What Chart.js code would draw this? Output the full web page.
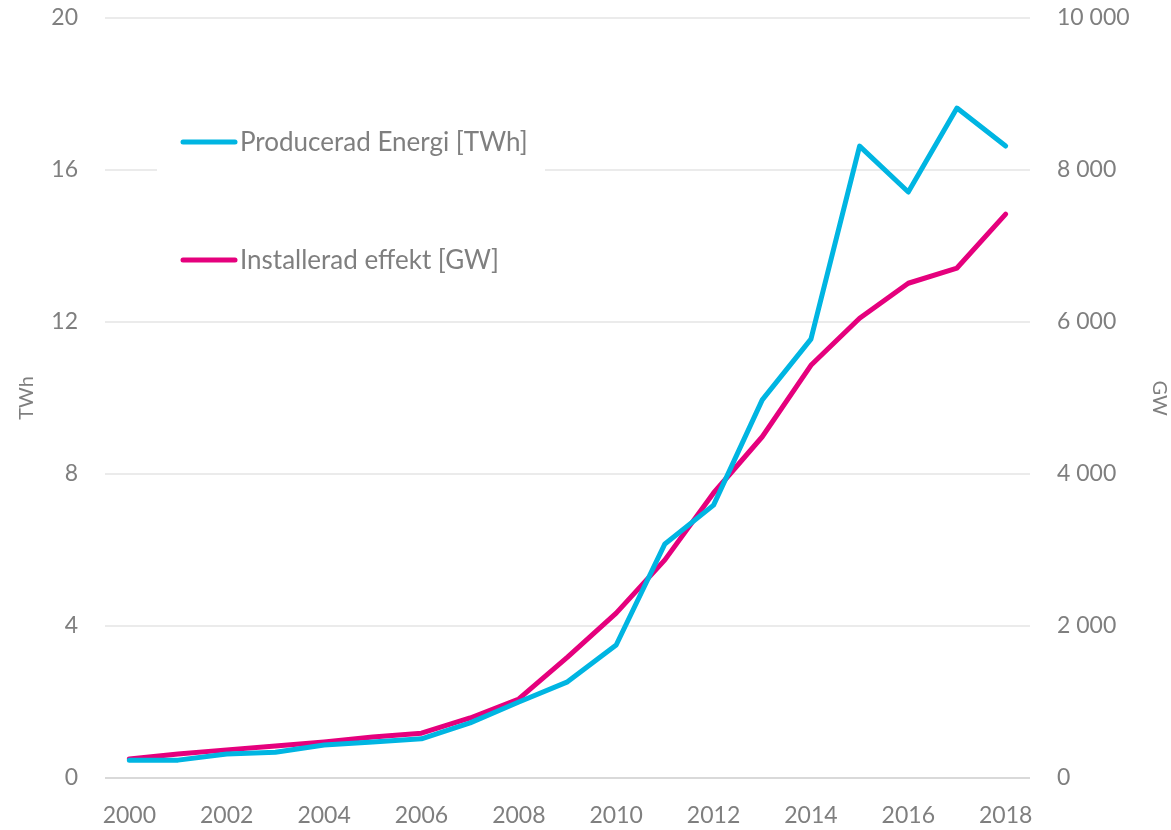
<!DOCTYPE html>
<html>
<head>
<meta charset="utf-8">
<script src="https://cdn.jsdelivr.net/npm/chart.js@4/dist/chart.umd.min.js"></script>
<style>
  html, body { margin: 0; padding: 0; background: #fff; }
  canvas { display: block; }
</style>
</head>
<body>
<canvas id="chart" width="1171" height="830"></canvas>
<script>
// Data
const years = ['2000', '2001', '2002', '2003', '2004', '2005', '2006', '2007', '2008', '2009',
  '2010', '2011', '2012', '2013', '2014', '2015', '2016', '2017', '2018'];
const energyTWh = [0.47, 0.47, 0.63, 0.68, 0.87, 0.95, 1.03, 1.45, 2.0, 2.53,
  3.5, 6.16, 7.18, 9.95, 11.55, 16.63, 15.42, 17.63, 16.63];
const capacityGW = [250, 315, 370, 420, 475, 540, 590, 790, 1040, 1590,
  2170, 2870, 3750, 4490, 5430, 6050, 6510, 6710, 7420];
const twhTicks = [0, 4, 8, 12, 16, 20];
const gwTicks = [0, 2000, 4000, 6000, 8000, 10000];

const blue = '#00B5E2';
const pink = '#E5007D';
const grey = '#7F7F7F';
const font = 'Lato, "Open Sans", sans-serif';

// white box + legend drawn inside the plot, like the original
const innerLegend = {
  id: 'innerLegend',
  beforeDatasetsDraw(chart) {
    const ctx = chart.ctx;
    ctx.save();
    ctx.fillStyle = '#fff';
    ctx.fillRect(157, 110, 388, 180);
    ctx.restore();
  },
  afterDatasetsDraw(chart) {
    const ctx = chart.ctx;
    ctx.save();
    ctx.font = '26px ' + font;
    ctx.textBaseline = 'middle';
    chart.data.datasets.forEach((ds, i) => {
      const y = 142 + i * 118;
      ctx.strokeStyle = ds.borderColor;
      ctx.lineWidth = 5;
      ctx.lineCap = 'round';
      ctx.beginPath();
      ctx.moveTo(183, y);
      ctx.lineTo(235, y);
      ctx.stroke();
      ctx.fillStyle = grey;
      ctx.fillText(ds.label, 240, y + 1);
    });
    ctx.restore();
  }
};

// fix the box sizes so the plot area lands where it does in the original
const fitY = w => s => { s.width = w; s.paddingTop = 0; s.paddingBottom = 0; };

new Chart(document.getElementById('chart').getContext('2d'), {
  type: 'line',
  data: {
    labels: years,
    datasets: [
      {
        label: 'Producerad Energi [TWh]',
        data: energyTWh,
        yAxisID: 'y',
        borderColor: blue,
        backgroundColor: blue,
        borderWidth: 5,
        pointRadius: 0,
        tension: 0,
        borderCapStyle: 'round',
        borderJoinStyle: 'round'
      },
      {
        label: 'Installerad effekt [GW]',
        data: capacityGW,
        yAxisID: 'y1',
        borderColor: pink,
        backgroundColor: pink,
        borderWidth: 5,
        pointRadius: 0,
        tension: 0,
        borderCapStyle: 'round',
        borderJoinStyle: 'round'
      }
    ]
  },
  options: {
    responsive: false,
    animation: false,
    layout: { padding: { top: 18 } },
    plugins: {
      legend: { display: false },
      tooltip: { enabled: false }
    },
    scales: {
      x: {
        offset: true,
        grid: { display: false },
        border: { display: false },
        ticks: {
          autoSkip: false,
          maxRotation: 0,
          padding: 16,
          color: grey,
          font: { family: font, size: 23 },
          callback: (v, i) => (i % 2 === 0 ? years[i] : '')
        },
        afterFit: s => { s.height = 52; s.paddingLeft = 0; s.paddingRight = 0; }
      },
      y: {
        position: 'left',
        min: 0,
        max: 20,
        afterBuildTicks: s => { s.ticks = twhTicks.map(v => ({ value: v })); },
        grid: {
          drawTicks: false,
          color: ctx => (ctx.tick && ctx.tick.value === 0 ? '#D9D9D9' : '#EBEBEB'),
          lineWidth: 2
        },
        border: { display: false },
        ticks: { padding: 27, color: grey, font: { family: font, size: 23 } },
        title: {
          display: true,
          text: 'TWh',
          color: grey,
          font: { family: font, size: 20 },
          padding: { top: 15, bottom: 0 }
        },
        afterFit: fitY(105)
      },
      y1: {
        position: 'right',
        min: 0,
        max: 10000,
        afterBuildTicks: s => { s.ticks = gwTicks.map(v => ({ value: v })); },
        grid: { display: false, drawTicks: false },
        border: { display: false },
        ticks: {
          padding: 27,
          color: grey,
          font: { family: font, size: 23 },
          callback: v => v.toLocaleString('en-US').replace(/,/g, ' ')
        },
        title: {
          display: true,
          text: 'GW',
          color: grey,
          font: { family: font, size: 20 },
          padding: { top: 0, bottom: 0 }
        },
        afterFit: fitY(141)
      }
    }
  },
  plugins: [innerLegend]
});
</script>
</body>
</html>
